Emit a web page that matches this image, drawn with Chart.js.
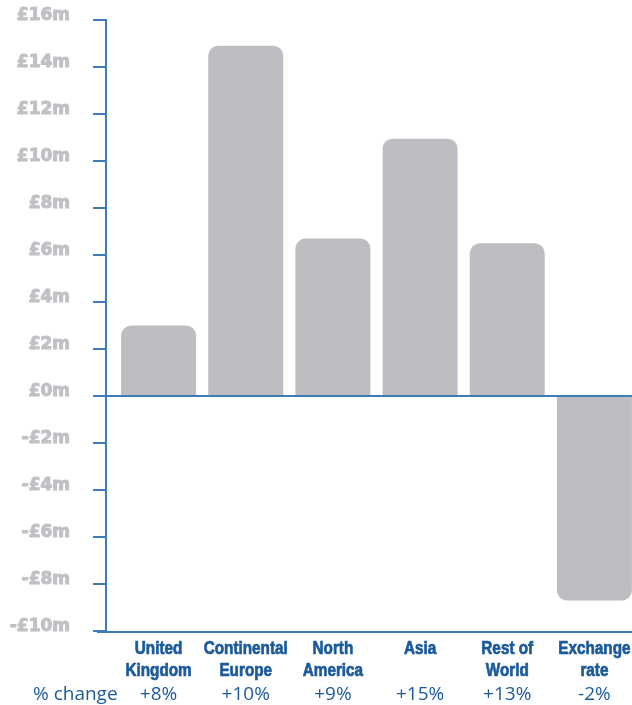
<!DOCTYPE html>
<html>
<head>
<meta charset="utf-8">
<script src="https://cdn.jsdelivr.net/npm/chart.js@4"></script>
<style>
  body { margin: 0; background: #fff; }
  #wrap { width: 632px; height: 705px; overflow: hidden; }
</style>
</head>
<body>
<div id="wrap"><canvas id="salesChart" width="640" height="705"></canvas></div>
<script>
// categories, values (£m) and % change row
var categories = [['United', 'Kingdom'], ['Continental', 'Europe'], ['North', 'America'], ['Asia'], ['Rest of', 'World'], ['Exchange', 'rate']];
var values = [3.0, 14.9, 6.7, 10.95, 6.5, -8.7];
var pctChange = ['+8%', '+10%', '+9%', '+15%', '+13%', '-2%'];
var pctLabel = '% change';

var axisBlue = '#3d7cb8';
var textBlue = '#1c5a9a';

// blue axis lines, tick marks, condensed category labels and the % change row
var axisLines = {
    id: 'axisLines',
    afterDatasetsDraw: function(chart) {
        var c = chart.ctx, y = chart.scales.y, x = chart.scales.x, a = chart.chartArea;
        var axisX = 106;
        c.save();
        c.strokeStyle = axisBlue;
        c.lineWidth = 2;
        c.beginPath();
        c.moveTo(axisX, y.getPixelForValue(16) - 1);
        c.lineTo(axisX, a.bottom + 1);
        y.ticks.forEach(function(t) {
            var py = y.getPixelForValue(t.value);
            c.moveTo(93, py);
            c.lineTo(axisX, py);
        });
        var zero = y.getPixelForValue(0);
        c.moveTo(93, zero);
        c.lineTo(chart.width, zero);
        c.moveTo(97, a.bottom + 1);
        c.lineTo(chart.width, a.bottom + 1);
        c.stroke();

        c.fillStyle = textBlue;
        c.strokeStyle = textBlue;
        c.lineWidth = 0.7;
        c.textBaseline = 'alphabetic';
        c.textAlign = 'center';
        c.font = 'bold 18px "Liberation Sans", Arial, sans-serif';
        categories.forEach(function(lines, i) {
            var cx = x.getPixelForValue(i);
            lines.forEach(function(line, j) {
                c.save();
                c.translate(cx, 654 + j * 22);
                c.scale(0.85, 1);
                c.fillText(line, 0, 0);
                c.strokeText(line, 0, 0);
                c.restore();
            });
        });

        c.font = '19px "Open Sans", sans-serif';
        c.textAlign = 'left';
        c.fillText(pctLabel, 33, 700);
        c.textAlign = 'center';
        pctChange.forEach(function(p, i) {
            c.fillText(p, x.getPixelForValue(i), 700);
        });
        c.restore();
    }
};

var ctx = document.getElementById('salesChart').getContext('2d');
var myChart = new Chart(ctx, {
    type: 'bar',
    data: {
        labels: categories,
        datasets: [{
            data: values,
            backgroundColor: '#bdbec2',
            borderRadius: 10,
            borderSkipped: 'start',
            barPercentage: 0.86,
            categoryPercentage: 1
        }]
    },
    options: {
        responsive: false,
        devicePixelRatio: 1,
        animation: false,
        layout: { padding: { top: 20, right: 2, left: 0, bottom: 0 } },
        plugins: {
            legend: { display: false },
            tooltip: { enabled: false }
        },
        scales: {
            x: {
                grid: { display: false },
                border: { display: false },
                ticks: { display: false },
                afterFit: function(scale) { scale.height = 74; }
            },
            y: {
                min: -10,
                max: 16,
                grid: { display: false },
                border: { display: false },
                ticks: {
                    stepSize: 2,
                    color: '#c0c1c5',
                    textStrokeColor: '#c0c1c5',
                    textStrokeWidth: 1,
                    font: { family: '"DejaVu Sans", sans-serif', size: 17, weight: 'bold' },
                    padding: 37,
                    labelOffset: -4,
                    callback: function(v) {
                        return (v < 0 ? '-£' + Math.abs(v) : '£' + v) + 'm';
                    }
                },
                afterFit: function(scale) {
                    scale.width = 115;
                    scale.paddingTop = 10;
                    scale.paddingBottom = 10;
                }
            }
        }
    },
    plugins: [axisLines]
});
</script>
</body>
</html>
